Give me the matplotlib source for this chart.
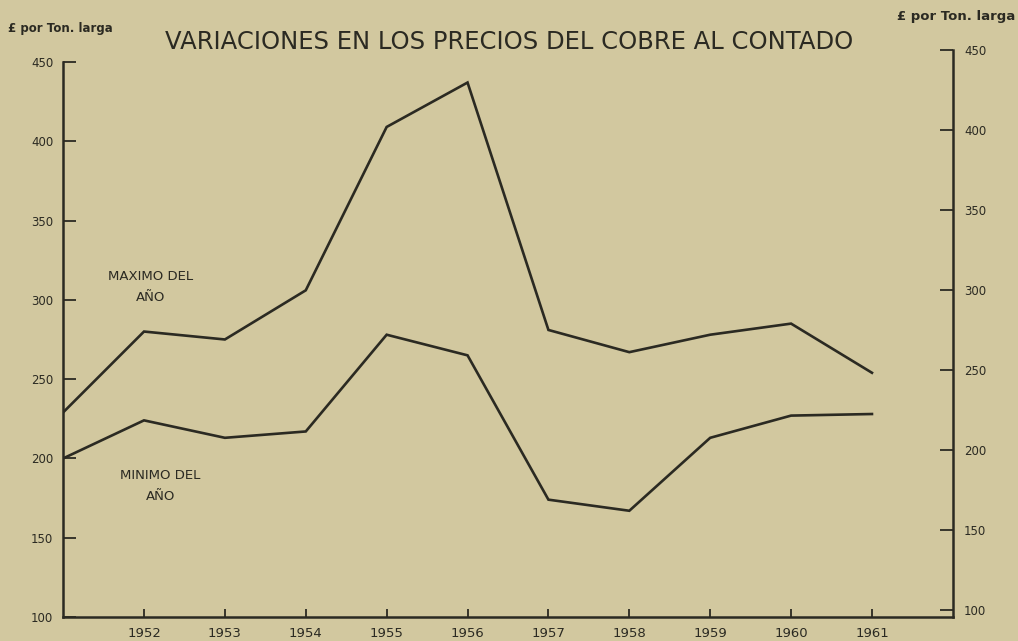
import matplotlib.pyplot as plt
import numpy as np

years = [1951, 1952, 1953, 1954, 1955, 1956, 1957, 1958, 1959, 1960, 1961]
maximo = [229, 280, 275, 306, 409, 437, 281, 267, 278, 285, 254]
minimo = [200, 224, 213, 217, 278, 265, 174, 167, 213, 227, 228]
y_ticks = [100, 150, 200, 250, 300, 350, 400, 450]
x_ticks = [1952, 1953, 1954, 1955, 1956, 1957, 1958, 1959, 1960, 1961]

paper = '#d2c89f'
ink = '#2b2a22'

fig = plt.figure(figsize=(10.18, 6.41), dpi=100, facecolor=paper)
ax = fig.add_axes([0.062, 0.0374, 0.874, 0.866])
ax.set_facecolor(paper)

ax.plot(years, maximo, color=ink, lw=1.9, solid_joinstyle='miter')
ax.plot(years, minimo, color=ink, lw=1.9, solid_joinstyle='miter')

ax.set_xticks(x_ticks)
ax.set_xticklabels([str(y) for y in x_ticks])
ax.set_yticks(y_ticks)
ax.set_xlim(1951, 1962)
ax.set_ylim(100, 450)

for side in ['left', 'bottom']:
    ax.spines[side].set_color(ink)
    ax.spines[side].set_linewidth(1.8)
ax.spines['top'].set_visible(False)
ax.spines['right'].set_visible(False)

ax.tick_params(axis='x', direction='in', length=6, width=1.3, colors=ink,
               labelsize=9.5, pad=7)
ax.tick_params(axis='y', direction='in', length=9, width=1.3, colors=ink,
               labelsize=8.5, pad=7)

# the right scale sits slightly higher on the scanned page
ax2 = fig.add_axes([0.062, 0.0374, 0.874, 0.8846])
ax2.patch.set_visible(False)
ax2.set_xlim(1951, 1962)
ax2.set_yticks(y_ticks)
ax2.set_ylim(95.6, 450)
ax2.set_xticks([])
ax2.yaxis.tick_right()
for side in ['left', 'bottom', 'top']:
    ax2.spines[side].set_visible(False)
ax2.spines['right'].set_color(ink)
ax2.spines['right'].set_linewidth(1.8)
ax2.tick_params(axis='y', direction='in', length=9.5, width=1.3, colors=ink,
                labelsize=8.5, pad=8)

fig.text(0.50, 0.934, 'VARIACIONES EN LOS PRECIOS DEL COBRE AL CONTADO',
         ha='center', va='center', fontsize=17.5, color=ink)
fig.text(0.008, 0.955, '£ por Ton. larga', ha='left', va='center',
         fontsize=8.5, color=ink, fontweight='bold')
fig.text(0.997, 0.975, '£ por Ton. larga', ha='right', va='center',
         fontsize=9.5, color=ink, fontweight='bold')

ax.text(1952.08, 308, 'MAXIMO DEL\nAÑO', ha='center', va='center',
        fontsize=9.5, color=ink, linespacing=1.8)
ax.text(1952.2, 182.5, 'MINIMO DEL\nAÑO', ha='center', va='center',
        fontsize=9.5, color=ink, linespacing=1.8)

fig.savefig('out.png', dpi=100, facecolor=paper)
